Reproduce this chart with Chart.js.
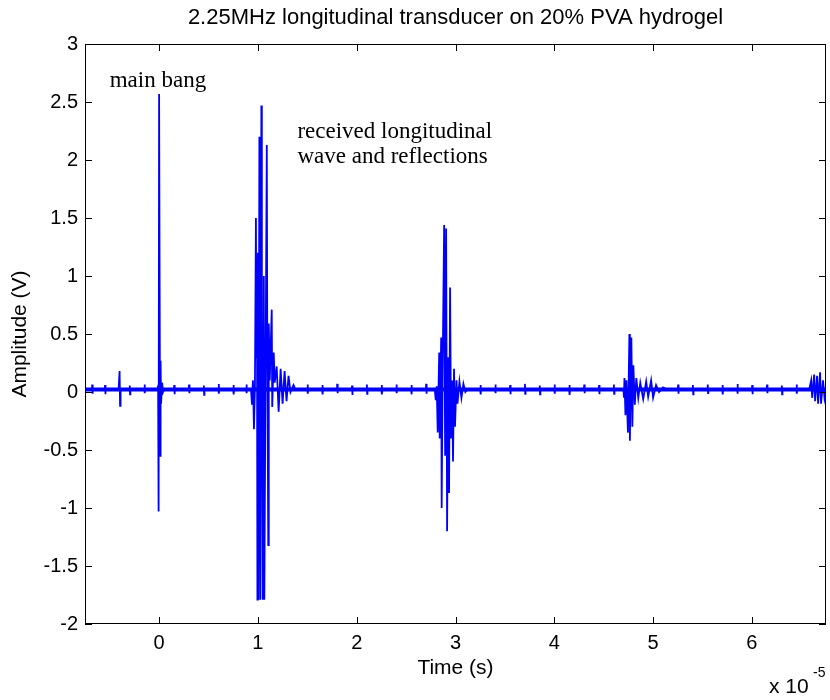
<!DOCTYPE html>
<html>
<head>
<meta charset="utf-8">
<script src="https://cdn.jsdelivr.net/npm/chart.js@4.4.1/dist/chart.umd.min.js"></script>
<style>
  html, body { margin: 0; padding: 0; background: #fff; }
  #wrap { width: 830px; height: 700px; }
</style>
</head>
<body>
<div id="wrap"><canvas id="scope" width="830" height="700"></canvas></div>
<script>
// time in units of 1e-5 s, amplitude in V
var preT = [-0.75, -0.68, -0.677, -0.674, -0.671, -0.55, -0.547, -0.544, -0.541, -0.41, -0.40, -0.395, -0.39,
  -0.3, -0.297, -0.294, -0.291, -0.15, -0.147, -0.144, -0.141];
var preV = [0.022, 0.022, 0.065, -0.015, 0.022, 0.022, 0.06, -0.02, 0.022, 0.022, 0.18, -0.12, 0.022,
  0.022, 0.055, -0.02, 0.022, 0.022, 0.065, -0.01, 0.022];

var bangT = [-0.02, -0.01, -0.005, 0.0, 0.01, 0.015, 0.02, 0.03, 0.04, 0.05];
var bangV = [0.022, 0.05, -1.03, 2.57, -0.55, 0.27, -0.1, 0.08, 0.0, 0.022];

var gap1T = [0.15, 0.153, 0.156, 0.159, 0.3, 0.303, 0.306, 0.309, 0.45, 0.453, 0.456, 0.459,
  0.6, 0.603, 0.606, 0.609, 0.75, 0.753, 0.756, 0.759, 0.88, 0.883, 0.886, 0.889];
var gap1V = [0.022, 0.06, -0.02, 0.022, 0.022, 0.065, -0.01, 0.022, 0.022, 0.055, -0.025, 0.022,
  0.022, 0.07, -0.015, 0.022, 0.022, 0.06, -0.02, 0.022, 0.022, 0.065, -0.01, 0.022];

var echo1T = [0.93, 0.94, 0.95, 0.96, 0.97, 0.98, 0.985, 0.99, 0.995, 1.0, 1.005, 1.015, 1.02, 1.025, 1.035, 1.04,
  1.05, 1.06, 1.065, 1.09, 1.095, 1.105, 1.11, 1.12, 1.14, 1.145, 1.16, 1.17, 1.19, 1.21, 1.23, 1.25,
  1.27, 1.29, 1.31, 1.33, 1.36, 1.38];
var echo1V = [0.022, -0.11, 0.1, -0.32, 0.05, 1.5, 0.3, 1.16, -1.79, 1.2, -1.79, 2.2, 0.4, -1.79, 2.47, 0.5,
  -1.79, 1.0, -1.79, 2.13, 0.4, -1.32, 0.59, 0.1, 0.71, -0.13, 0.34, 0.08, 0.22, -0.17, 0.2, -0.1,
  0.18, -0.08, 0.14, 0.0, 0.06, 0.022];

var gap2T = [1.5, 1.503, 1.506, 1.509, 1.65, 1.653, 1.656, 1.659, 1.8, 1.803, 1.806, 1.809,
  1.95, 1.953, 1.956, 1.959, 2.1, 2.103, 2.106, 2.109, 2.25, 2.253, 2.256, 2.259,
  2.4, 2.403, 2.406, 2.409, 2.55, 2.553, 2.556, 2.559, 2.7, 2.703, 2.706, 2.709];
var gap2V = [0.022, 0.065, -0.015, 0.022, 0.022, 0.06, -0.02, 0.022, 0.022, 0.07, -0.01, 0.022,
  0.022, 0.055, -0.025, 0.022, 0.022, 0.065, -0.015, 0.022, 0.022, 0.06, -0.02, 0.022,
  0.022, 0.065, -0.01, 0.022, 0.022, 0.06, -0.02, 0.022, 0.022, 0.07, -0.015, 0.022];

var echo2T = [2.79, 2.80, 2.81, 2.82, 2.835, 2.84, 2.855, 2.86, 2.87, 2.885, 2.895, 2.905, 2.915, 2.925,
  2.935, 2.945, 2.955, 2.965, 2.975, 2.985, 2.995, 3.01, 3.02, 3.04, 3.06, 3.08, 3.1, 3.12];
var echo2V = [0.022, -0.07, 0.05, -0.35, 0.34, -0.4, 0.47, -1.0, 0.2, 1.44, -0.55, 1.41, -1.2, 0.3,
  -0.87, 0.9, -0.4, 0.1, -0.6, 0.2, -0.3, 0.1, -0.1, 0.09, -0.05, 0.07, 0.0, 0.022];

var gap3T = [3.25, 3.253, 3.256, 3.259, 3.4, 3.403, 3.406, 3.409, 3.55, 3.553, 3.556, 3.559,
  3.7, 3.703, 3.706, 3.709, 3.85, 3.853, 3.856, 3.859, 4.0, 4.003, 4.006, 4.009,
  4.15, 4.153, 4.156, 4.159, 4.3, 4.303, 4.306, 4.309, 4.45, 4.453, 4.456, 4.459, 4.6, 4.603, 4.606, 4.609];
var gap3V = [0.022, 0.06, -0.02, 0.022, 0.022, 0.065, -0.01, 0.022, 0.022, 0.06, -0.02, 0.022,
  0.022, 0.07, -0.015, 0.022, 0.022, 0.055, -0.02, 0.022, 0.022, 0.065, -0.015, 0.022,
  0.022, 0.06, -0.025, 0.022, 0.022, 0.065, -0.01, 0.022, 0.022, 0.06, -0.02, 0.022, 0.022, 0.065, -0.015, 0.022];

var echo3T = [4.70, 4.705, 4.71, 4.72, 4.73, 4.745, 4.76, 4.765, 4.78, 4.79, 4.8, 4.815,
  4.83, 4.85, 4.87, 4.9, 4.93, 4.95, 4.98, 5.0, 5.03, 5.06, 5.1, 5.14];
var echo3V = [0.022, -0.05, 0.12, -0.2, 0.1, -0.35, 0.5, -0.42, 0.47, -0.3, 0.23, -0.11,
  0.12, -0.05, 0.08, -0.06, 0.09, -0.04, 0.1, -0.05, 0.06, 0.0, 0.04, 0.022];

var gap4T = [5.25, 5.253, 5.256, 5.259, 5.4, 5.403, 5.406, 5.409, 5.55, 5.553, 5.556, 5.559,
  5.7, 5.703, 5.706, 5.709, 5.85, 5.853, 5.856, 5.859, 6.0, 6.003, 6.006, 6.009,
  6.15, 6.153, 6.156, 6.159, 6.3, 6.303, 6.306, 6.309, 6.45, 6.453, 6.456, 6.459];
var gap4V = [0.022, 0.065, -0.015, 0.022, 0.022, 0.06, -0.02, 0.022, 0.022, 0.065, -0.01, 0.022,
  0.022, 0.06, -0.02, 0.022, 0.022, 0.07, -0.015, 0.022, 0.022, 0.06, -0.02, 0.022,
  0.022, 0.065, -0.01, 0.022, 0.022, 0.055, -0.02, 0.022, 0.022, 0.065, -0.015, 0.022];

var tailT = [6.58, 6.6, 6.61, 6.63, 6.64, 6.66, 6.67, 6.69, 6.7, 6.72, 6.735, 6.75];
var tailV = [0.022, 0.1, -0.05, 0.15, -0.08, 0.14, -0.1, 0.17, -0.1, 0.1, -0.05, 0.03];

// the band of small noise the trace rides on
var baseT = [-0.75, 6.75];
var baseV = [0.022, 0.022];

var xTicks = [0, 1, 2, 3, 4, 5, 6];
var titleText = "2.25MHz longitudinal transducer on 20% PVA hydrogel";
var notes = [
  { text: "main bang", at: [-0.5, 2.63] },
  { text: "received longitudinal", at: [1.40, 2.19] },
  { text: "wave and reflections", at: [1.40, 1.97] }
];

var traceT = [].concat(preT, bangT, gap1T, echo1T, gap2T, echo2T, gap3T, echo3T, gap4T, tailT);
var traceV = [].concat(preV, bangV, gap1V, echo1V, gap2V, echo2V, gap3V, echo3V, gap4V, tailV);

function pairs(t, v) {
  var out = [];
  for (var i = 0; i < t.length; i++) out.push({ x: t[i], y: v[i] });
  return out;
}

var sansFont = "'Liberation Sans', Arial, sans-serif";
var serifFont = "'Liberation Serif', 'Times New Roman', serif";

var matlabBox = {
  id: "matlabBox",
  afterDraw: function (chart) {
    var c = chart.ctx, a = chart.chartArea;
    var xs = chart.scales.x, ys = chart.scales.y;
    c.save();
    c.strokeStyle = "#000";
    c.lineWidth = 1;
    c.strokeRect(a.left + 0.5, a.top + 0.5, a.right - a.left - 1, a.bottom - a.top - 1);
    var tl = 7;
    c.beginPath();
    xs.ticks.forEach(function (t) {
      var px = Math.round(xs.getPixelForValue(t.value)) + 0.5;
      c.moveTo(px, a.bottom); c.lineTo(px, a.bottom - tl);
      c.moveTo(px, a.top); c.lineTo(px, a.top + tl);
    });
    ys.ticks.forEach(function (t) {
      var py = Math.round(ys.getPixelForValue(t.value)) + 0.5;
      c.moveTo(a.left, py); c.lineTo(a.left + tl, py);
      c.moveTo(a.right, py); c.lineTo(a.right - tl, py);
    });
    c.stroke();

    c.fillStyle = "#000";
    c.textAlign = "center";
    c.textBaseline = "middle";
    c.font = "22px " + sansFont;
    c.fillText(titleText, (a.left + a.right) / 2, 18);
    c.font = "21px " + sansFont;
    c.fillText("Time (s)", (a.left + a.right) / 2, 668);
    c.save();
    c.translate(20, (a.top + a.bottom) / 2);
    c.rotate(-Math.PI / 2);
    c.fillText("Amplitude (V)", 0, 0);
    c.restore();
    c.textAlign = "left";
    c.fillText("x 10", 769, 687);
    c.font = "14px " + sansFont;
    c.fillText("-5", 813, 673);

    c.font = "23px " + serifFont;
    c.textBaseline = "alphabetic";
    notes.forEach(function (n) {
      c.fillText(n.text, xs.getPixelForValue(n.at[0]), ys.getPixelForValue(n.at[1]));
    });
    c.restore();
  }
};

new Chart(document.getElementById("scope"), {
  type: "scatter",
  data: {
    datasets: [
      {
        data: pairs(baseT, baseV),
        showLine: true,
        borderColor: "#0000ff",
        borderWidth: 4,
        pointRadius: 0
      },
      {
        data: pairs(traceT, traceV),
        showLine: true,
        borderColor: "#0000ff",
        borderWidth: 1.8,
        pointRadius: 0,
        tension: 0
      }
    ]
  },
  options: {
    responsive: false,
    animation: false,
    events: [],
    layout: { padding: { top: 44, right: 4, left: 0, bottom: 0 } },
    plugins: { legend: { display: false }, tooltip: { enabled: false } },
    scales: {
      x: {
        type: "linear",
        min: -0.75,
        max: 6.75,
        afterFit: function (s) { s.height = 76; },
        afterBuildTicks: function (s) {
          s.ticks = xTicks.map(function (v) { return { value: v }; });
        },
        grid: { display: false, drawTicks: false },
        border: { display: false },
        ticks: { color: "#000", padding: 7, font: { family: sansFont, size: 20 } }
      },
      y: {
        min: -2,
        max: 3,
        afterFit: function (s) { s.width = 85; },
        grid: { display: false, drawTicks: false },
        border: { display: false },
        ticks: {
          stepSize: 0.5, color: "#000", padding: 7, font: { family: sansFont, size: 20 },
          callback: function (v) { return String(Number(v)); }
        }
      }
    }
  },
  plugins: [matlabBox]
});
</script>
</body>
</html>
